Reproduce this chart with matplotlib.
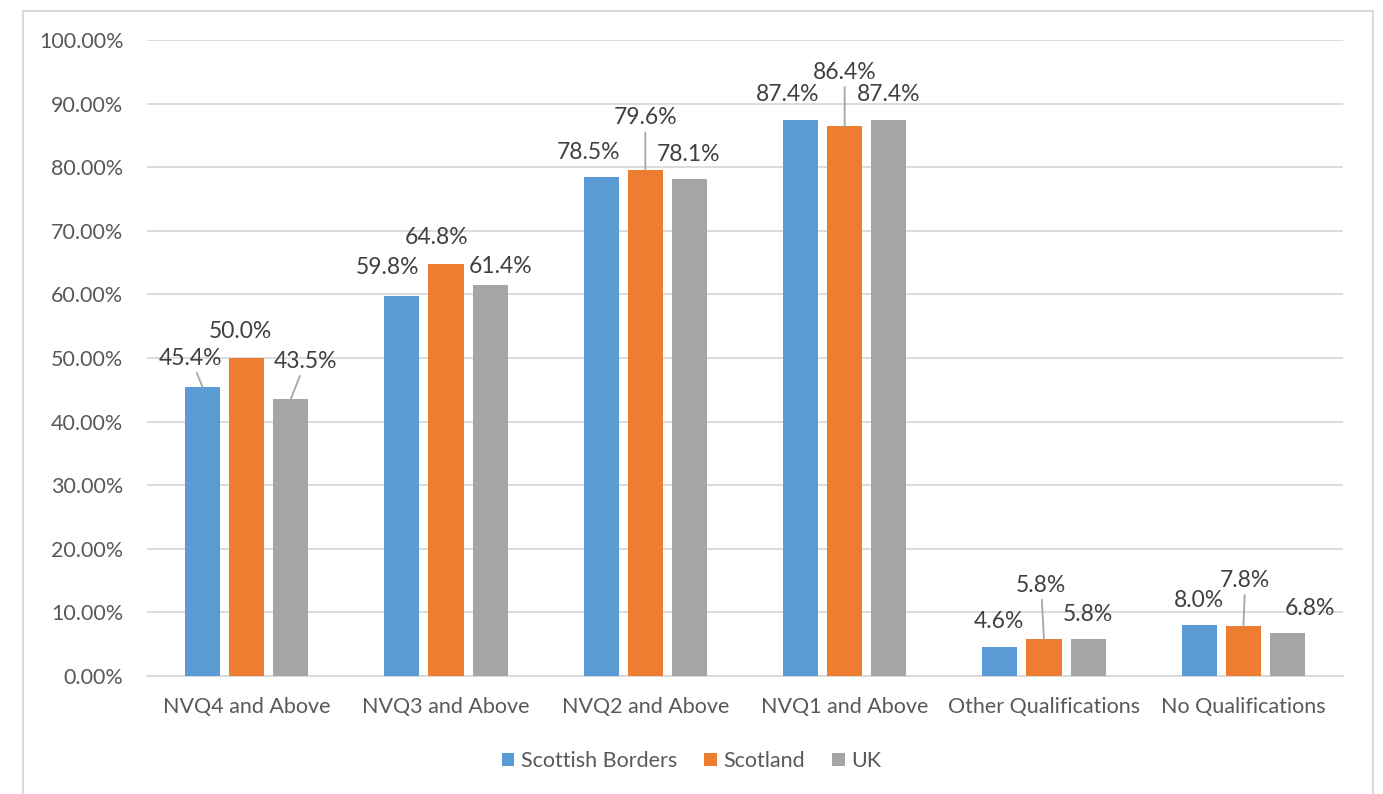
import numpy as np
import matplotlib
matplotlib.use("Agg")
import matplotlib.pyplot as plt
from matplotlib.patches import Rectangle

plt.rcParams['font.family'] = ['Lato', 'DejaVu Sans']

# qualification levels and shares (%)
categories = ['NVQ4 and Above', 'NVQ3 and Above', 'NVQ2 and Above',
              'NVQ1 and Above', 'Other Qualifications', 'No Qualifications']
borders = [45.4, 59.8, 78.5, 87.4, 4.6, 8.0]
scotland = [50.0, 64.8, 79.6, 86.4, 5.8, 7.8]
uk = [43.5, 61.4, 78.1, 87.4, 5.8, 6.8]

series_names = ['Scottish Borders', 'Scotland', 'UK']
colors = ['#5B9BD5', '#ED7D31', '#A5A5A5']

# label offsets in pixels (dx, dy) and whether a leader line is drawn
label_offsets = [
    [(-12, 29, True), (-14, 28, False), (-13, 24, False), (-13, 26, False), (-1, 25, False), (0, 25, False)],
    [(-6, 26, False), (-9, 26, False), (0, 52, True), (0, 54, True), (-3, 54, True), (2, 46, True)],
    [(15, 38, True), (11, 19, False), (-1, 25, False), (0, 26, False), (0, 25, False), (23, 24, False)],
]

fig = plt.figure(figsize=(13.83, 7.94), dpi=100)
ax = fig.add_axes([147 / 1383, 1 - 676 / 794, 1196 / 1383, 636 / 794])

# outer chart border
fig.patches.append(Rectangle((23 / 1383, -0.05), 1350 / 1383, 1.05 - 11 / 794,
                             transform=fig.transFigure, fill=False,
                             edgecolor='#D9D9D9', linewidth=1.5))

x = np.arange(len(categories))
width = 35 / 199.3
step = 44 / 199.3
all_series = [borders, scotland, uk]
px = 0.72  # pixels -> points

for i, (vals, name, col) in enumerate(zip(all_series, series_names, colors)):
    xs = x + (i - 1) * step
    ax.bar(xs, vals, width, color=col, label=name, zorder=3)
    for xi, v, (dx, dy, leader) in zip(xs, vals, label_offsets[i]):
        props = None
        if leader:
            props = dict(arrowstyle='-', color='#A6A6A6', lw=1.3, shrinkA=1, shrinkB=0)
        ax.annotate(f'{v:.1f}%', xy=(xi, v), xytext=(dx * px, dy * px),
                    textcoords='offset points', ha='center', va='center',
                    fontsize=16.5, color='#404040', arrowprops=props, zorder=4)

ax.set_xlim(-0.5, len(categories) - 0.5)
ax.set_ylim(0, 100)
ax.set_yticks(np.arange(0, 101, 10))
ax.set_yticklabels([f'{t:.2f}%' for t in np.arange(0, 101, 10)])
ax.set_xticks(x)
ax.set_xticklabels(categories)
ax.tick_params(axis='both', length=0, labelsize=15.5, labelcolor='#595959')
ax.tick_params(axis='y', pad=17)
ax.tick_params(axis='x', pad=15)

ax.grid(axis='y', color='#D9D9D9', linewidth=1.3, zorder=0)
for side in ['top', 'right', 'left']:
    ax.spines[side].set_visible(False)
ax.spines['bottom'].set_color('#D9D9D9')
ax.spines['bottom'].set_linewidth(1.3)

leg = fig.legend(loc='center', bbox_to_anchor=(0.5, 1 - 761 / 794), ncol=3,
                 frameon=False, fontsize=15.5, handlelength=0.6, handleheight=0.6,
                 handletextpad=0.3, columnspacing=1.25)
for t in leg.get_texts():
    t.set_color('#595959')

fig.savefig('out.png', dpi=100)
